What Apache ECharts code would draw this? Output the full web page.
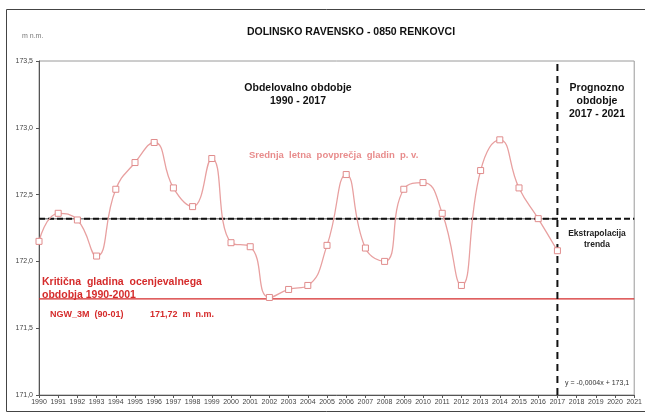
<!DOCTYPE html>
<html>
<head>
<meta charset="utf-8">
<script src="https://cdn.jsdelivr.net/npm/echarts@6/dist/echarts.min.js"></script>
<style>
  html, body { margin: 0; padding: 0; background: #fff; }
  #chart { width: 645px; height: 415px; }
</style>
</head>
<body>
<div id="chart"></div>
<script>
// letna povprecja gladin p. v. (m n.m.)
const years = [1990, 1991, 1992, 1993, 1994, 1995, 1996, 1997, 1998, 1999, 2000, 2001, 2002, 2003,
  2004, 2005, 2006, 2007, 2008, 2009, 2010, 2011, 2012, 2013, 2014, 2015, 2016, 2017];
const levels = [172.15, 172.36, 172.31, 172.04, 172.54, 172.74, 172.89, 172.55, 172.41, 172.77, 172.14,
  172.11, 171.73, 171.79, 171.82, 172.12, 172.65, 172.10, 172.00, 172.54, 172.59, 172.36, 171.82,
  172.68, 172.91, 172.55, 172.32, 172.08];
// trend in ekstrapolacija
const trendYears = [1990, 2017, 2021];
const trendValues = [172.32, 172.32, 172.32];
// kriticna gladina NGW_3M (90-01)
const criticalYears = [1990, 2021];
const criticalValues = [171.72, 171.72];
// meja med obdobjema
const splitYear = 2017;
const yMin = 171.0, yMax = 173.5;

const chart = echarts.init(document.getElementById('chart'));
const font = 'Liberation Sans, Arial, sans-serif';
const fmt = (v) => v.toFixed(1).replace('.', ',');

// besedilo, x/y = sidro (center ali levo)
const label = (text, x, y, size, color, align, lh) => ({
  type: 'text', x, y, silent: true,
  style: { text, font: 'bold ' + size + 'px ' + font, fill: color, align: align || 'left', verticalAlign: 'top', lineHeight: lh || size + 2 },
});

chart.setOption({
  animation: false,
  textStyle: { fontFamily: font },
  grid: { left: 39, right: 10, top: 61, bottom: 20, show: true, borderColor: '#9a9a9a', borderWidth: 1 },
  xAxis: {
    type: 'value', min: 1990, max: 2021, interval: 1,
    axisLine: { onZero: false, lineStyle: { color: '#555' } },
    axisTick: { length: 3, lineStyle: { color: '#555' } },
    axisLabel: { fontSize: 7, color: '#444', margin: 4, formatter: (v) => String(v) },
    splitLine: { show: false },
  },
  yAxis: {
    type: 'value', min: yMin, max: yMax, interval: 0.5,
    axisLine: { show: true, lineStyle: { color: '#555' } },
    axisTick: { show: true, length: 3, lineStyle: { color: '#555' } },
    axisLabel: { fontSize: 7, color: '#444', margin: 6, formatter: fmt },
    splitLine: { show: false },
  },
  series: [
    {
      name: 'trend-base', type: 'line', silent: true, symbol: 'none',
      data: trendYears.slice(0, 2).map((x, i) => [x, trendValues[i]]),
      lineStyle: { color: '#888', width: 1.5 }, z: 2,
    },
    {
      name: 'trend', type: 'line', silent: true, symbol: 'none',
      data: trendYears.map((x, i) => [x, trendValues[i]]),
      lineStyle: { color: '#111', width: 2, type: [6, 3] }, z: 3,
    },
    {
      name: 'kriticna', type: 'line', silent: true, symbol: 'none',
      data: criticalYears.map((x, i) => [x, criticalValues[i]]),
      lineStyle: { color: '#d52b2b', width: 1.2 }, z: 2,
    },
    {
      name: 'meja', type: 'line', silent: true, symbol: 'none',
      data: [[splitYear, yMin], [splitYear, yMax]],
      lineStyle: { color: '#111', width: 2, type: [7, 5] }, z: 4,
    },
    {
      name: 'gladina', type: 'line', smooth: 0.5,
      data: years.map((x, i) => [x, levels[i]]),
      symbol: 'rect', symbolSize: 6,
      itemStyle: { color: '#fff', borderColor: '#e08c8c', borderWidth: 1 },
      lineStyle: { color: '#e8a0a0', width: 1.3 }, z: 5,
    },
  ],
  graphic: [
    { type: 'rect', shape: { x: 6.5, y: 9.5, width: 640, height: 402 }, style: { fill: null, stroke: '#444', lineWidth: 1 }, silent: true },
    label('DOLINSKO RAVENSKO - 0850 RENKOVCI', 351, 26, 10.5, '#111', 'center'),
    { type: 'text', x: 22, y: 33, silent: true, style: { text: 'm n.m.', font: '7px ' + font, fill: '#777' } },
    label('Obdelovalno obdobje\n1990 - 2017', 298, 82, 10.5, '#111', 'center', 13),
    label('Prognozno\nobdobje\n2017 - 2021', 597, 82, 10.5, '#111', 'center', 13),
    label('Srednja  letna  povprečja  gladin  p. v.', 249, 150, 9.5, '#e88c8c'),
    label('Ekstrapolacija\ntrenda', 597, 228, 8.5, '#222', 'center', 11),
    label('Kritična  gladina  ocenjevalnega\nobdobja 1990-2001', 42, 276, 10.5, '#d52b2b', 'left', 13),
    label('NGW_3M  (90-01)', 50, 309, 9, '#d52b2b'),
    label('171,72  m  n.m.', 150, 309, 9, '#d52b2b'),
    { type: 'text', x: 565, y: 380, silent: true, style: { text: 'y = -0,0004x + 173,1', font: '7px ' + font, fill: '#333' } },
  ],
});
</script>
</body>
</html>
